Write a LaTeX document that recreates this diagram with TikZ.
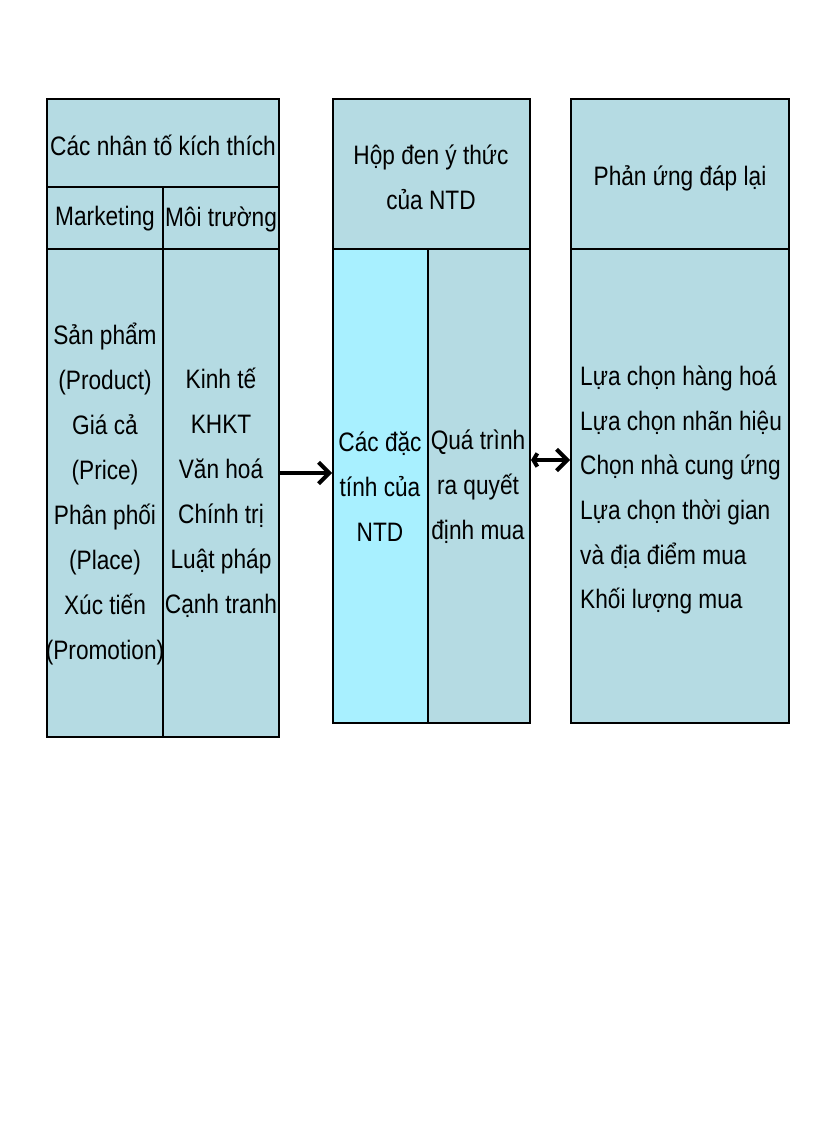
\documentclass[tikz,border=0pt]{standalone}
\usepackage{fontspec}
\setmainfont{Liberation Sans}
\usetikzlibrary{arrows.meta}
\definecolor{boxc}{HTML}{B5DBE3}
\definecolor{cyanc}{HTML}{A8F0FF}
\begin{document}
\begin{tikzpicture}[x=0.75pt,y=-0.75pt,
  frame/.style={draw=black,line width=1pt},
  txt/.style={font=\fontsize{20}{33.8}\selectfont,align=center,xscale=0.85,inner sep=0},
  ltxt/.style={font=\fontsize{20}{33.5}\selectfont,align=left,xscale=0.85,inner sep=0,anchor=west},
  arr/.style={line width=3pt,-{Straight Barb[length=8pt,width=16pt]}}]
\useasboundingbox (0,0) rectangle (816,1123);
\fill[white] (0,0) rectangle (816,1123);
% box 1
\path[frame,fill=boxc] (47,99) rectangle (279,737);
\draw[line width=1pt] (47,187) -- (279,187) (47,249) -- (279,249) (163,187) -- (163,737);
% box 2
\path[frame,fill=boxc] (333,99) rectangle (530,723);
\path[frame,fill=cyanc] (333,249) rectangle (428,723);
\draw[line width=1pt] (333,249) -- (530,249);
% box 3
\path[frame,fill=boxc] (571,99) rectangle (789,723);
\draw[line width=1pt] (571,249) -- (789,249);
% texts
\node[txt] (h1) at (163,145) {Các nhân tố kích thích};
\node[txt] (m) at (105,219) {Marketing};
\node[txt] (e) at (221,219) {Môi trường};
\node[txt] (c1) at (105,494) {Sản phẩm\\(Product)\\Giá cả\\(Price)\\Phân phối\\(Place)\\Xúc tiến\\(Promotion)};
\node[txt] (c2) at (221,493) {Kinh tế\\KHKT\\Văn hoá\\Chính trị\\Luật pháp\\Cạnh tranh};
\node[txt] (h2) at (431,177) {Hộp đen ý thức\\của NTD};
\node[txt] (b1) at (380,487) {Các đặc\\tính của\\NTD};
\node[txt] (b2) at (478,487) {Quá trình\\ra quyết\\định mua};
\node[txt] (h3) at (680,178) {Phản ứng đáp lại};
\node[ltxt] (r) at (580,490) {Lựa chọn hàng hoá\\Lựa chọn nhãn hiệu\\Chọn nhà cung ứng\\Lựa chọn thời gian\\và địa điểm mua\\Khối lượng mua};
% arrows
\coordinate (a1s) at (279,473); \coordinate (a1e) at (332,473);
\coordinate (a2s) at (531,460); \coordinate (a2e) at (570,460);
\draw[arr] (a1s) -- (a1e);
\draw[line width=3pt,{Straight Barb[length=3pt,width=10pt]}-{Straight Barb[length=8pt,width=16pt]}] (a2s) -- (a2e);
\end{tikzpicture}
\end{document}
